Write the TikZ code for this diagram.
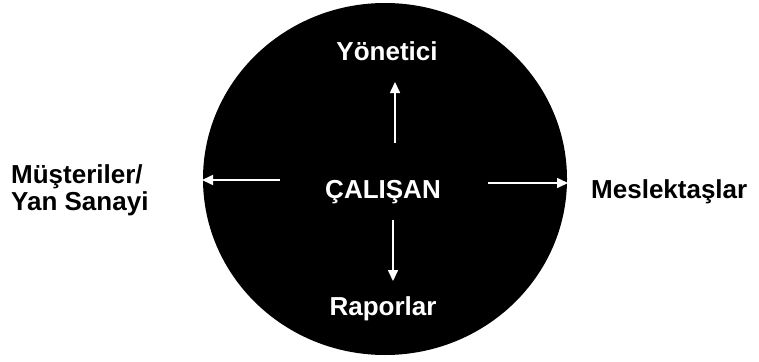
\documentclass[tikz,border=0pt]{standalone}
\usepackage{fontspec}
\setmainfont{Liberation Sans}
\usetikzlibrary{arrows.meta}
\begin{document}
\begin{tikzpicture}[x=1pt,y=-1pt,
  lbl/.style={font=\fontsize{26}{27}\selectfont\bfseries, inner sep=0pt},
  wlbl/.style={lbl, text=white},
  warrow/.style={draw=white, line width=1.6pt, -{Triangle[width=10pt,length=11pt]}}]
\useasboundingbox (0,0) rectangle (759,361);
\fill[black] (385,179) ellipse [x radius=182, y radius=176];
\node[wlbl, anchor=base] (yon) at (387,60) {Yönetici};
\node[wlbl, anchor=base] (cal) at (383,198) {ÇALIŞAN};
\node[wlbl, anchor=base] (rap) at (383,315) {Raporlar};
\node[lbl, anchor=base west, align=left] (mus) at (11,210) {Müşteriler/\\Yan Sanayi};
\node[lbl, anchor=base west] (mes) at (591,198) {Meslektaşlar};
\coordinate (us) at (395,143);
\coordinate (ue) at (395,82);
\coordinate (ds) at (393,220);
\coordinate (de) at (393,281);
\coordinate (ls) at (280,180);
\coordinate (le) at (202,180);
\coordinate (rs) at (488,183);
\coordinate (re) at (568,183);
\draw[warrow] (us) -- (ue);
\draw[warrow] (ds) -- (de);
\draw[warrow] (ls) -- (le);
\draw[warrow] (rs) -- (re);
\end{tikzpicture}
\end{document}
